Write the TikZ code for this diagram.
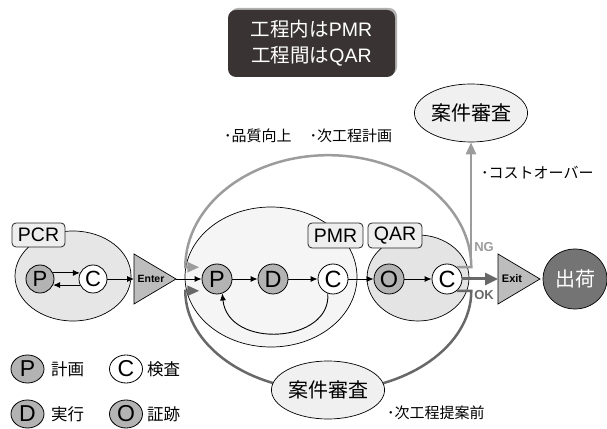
\documentclass[tikz,border=0pt]{standalone}
\usepackage{fontspec}
\setmainfont{Liberation Sans}
\newfontfamily\jp{Noto Sans CJK JP}
\usetikzlibrary{arrows.meta,shapes.geometric}
\definecolor{darkbox}{HTML}{393333}
\definecolor{pcrfill}{HTML}{E6E6E6}
\definecolor{pmrfill}{HTML}{F5F5F5}
\definecolor{qarfill}{HTML}{E4E4E4}
\definecolor{lblfill}{HTML}{EEEEEE}
\definecolor{cgray}{HTML}{B3B3B3}
\definecolor{lightloop}{HTML}{9C9C9C}
\definecolor{darkloop}{HTML}{686868}
\definecolor{trifill}{HTML}{BDBDBD}
\definecolor{shipfill}{HTML}{747474}
\definecolor{revfill}{HTML}{F0F0F0}
\begin{document}
\begin{tikzpicture}[x=1pt,y=1pt,
  every node/.style={inner sep=0pt},
  grp/.style={draw=black, line width=0.7pt, ellipse},
  lbl/.style={draw=black!85, fill=lblfill, rounded corners=4pt, line width=0.8pt,
    minimum height=25pt, font=\fontsize{19.5}{19.5}\selectfont},
  dot/.style={circle, draw=black, line width=0.8pt, minimum size=30pt,
    font=\fontsize{23.5}{23.5}\selectfont},
  sdot/.style={dot, minimum size=28pt, font=\fontsize{22}{22}\selectfont},
  gdot/.style={fill=cgray},
  wdot/.style={fill=white},
  legdot/.style={ellipse, draw=black, line width=0.8pt, minimum width=33pt,
    minimum height=28pt, font=\fontsize{23}{23}\selectfont},
  blk/.style={draw=black, line width=0.9pt, -{Latex[length=7pt,width=6pt]}},
  loopA/.style={draw=lightloop, line width=2.5pt, -{Triangle[length=12pt,width=10pt]}},
  loopB/.style={draw=darkloop, line width=2.5pt, -{Triangle[length=12pt,width=10pt]}},
  review/.style={ellipse, draw=black, line width=0.7pt, fill=revfill,
    minimum width=102pt, minimum height=58pt, font=\jp\fontsize{20}{20}\selectfont},
  jtext/.style={font=\jp\fontsize{15}{15}\selectfont},
  ltext/.style={font=\jp\fontsize{16.5}{16.5}\selectfont, anchor=west},
  tri/.style={draw=black, line width=0.7pt, fill=trifill}
]
\useasboundingbox (0,0) rectangle (607,428);

% top dark box
\fill[black!30, rounded corners=8pt] (230,353) rectangle (397,420);
\node[fill=darkbox, rounded corners=8pt, minimum width=167pt, minimum height=67pt,
  text=white, align=center, font=\fontsize{19.5}{26}\selectfont] (title) at (311.5,384.5)
  {{\jp 工程内は}PMR\\{\jp 工程間は}QAR};

% group ellipses
\node[grp, fill=pcrfill, minimum width=116pt, minimum height=90pt] (pcr) at (73,152) {};
\node[grp, fill=pmrfill, minimum width=172pt, minimum height=140pt] (pmr) at (271,151) {};
\node[grp, fill=qarfill, minimum width=102pt, minimum height=86pt] (qar) at (418,150) {};

% circles
\node[sdot, gdot] (pP) at (40,149) {P};
\node[sdot, wdot] (pC) at (93,149) {C};
\node[dot, gdot] (mP) at (217,149) {P};
\node[dot, gdot] (mD) at (273,149) {D};
\node[dot, wdot] (mC) at (333,149) {C};
\node[dot, gdot] (mO) at (389,149) {O};
\node[dot, wdot] (mC2) at (447,149) {C};

% triangles
\coordinate (enL) at (134,149);
\coordinate (enR) at (176,149);
\coordinate (exL) at (498,149);
\draw[tri] (134,174) -- (134,124) -- (enR) -- cycle;
\node[font=\bfseries\fontsize{10.5}{10.5}\selectfont] (enter) at (151,149) {Enter};
\draw[tri] (498,174) -- (498,124) -- (540,149) -- cycle;
\node[font=\bfseries\fontsize{11}{11}\selectfont] (exit) at (512,149) {Exit};

% shipping
\node[ellipse, draw=black, line width=0.7pt, fill=shipfill, minimum width=64pt,
  minimum height=60pt, text=white, font=\jp\fontsize{20}{20}\selectfont] (ship) at (575,149) {出荷};

% top review
\node[review] (rv1) at (471,315) {案件審査};

% loops
\draw[loopA] (mC2.50) -- ++(14.4,0) arc[start angle=0, end angle=180, x radius=143, y radius=112] -- ++(14,0);
\draw[loopA] (mC2.50) -| (rv1.south);
\draw[loopB] (mC2.310) -- ++(14.4,0) arc[start angle=0, end angle=-180, x radius=143, y radius=100] -- ++(14,0);

% bottom review
\node[review] (rv2) at (328,38) {案件審査};

% connectors
\draw[blk] (pP.25) -- (pC.155);
\draw[blk] (pC.205) -- (pP.335);
\draw[blk] (pC) -- (enL);
\draw[blk] (enR) -- (mP);
\draw[blk] (mP) -- (mD);
\draw[blk] (mD) -- (mC);
\draw[blk] (mC) -- (mO);
\draw[blk] (mO) -- (mC2);
\draw[blk] (mC.250) .. controls (332,85) and (228,78) .. (mP.290);
\draw[draw=darkloop, line width=3pt, -{Triangle[length=13pt,width=12pt]}] (mC2) -- (exL);

% labels
\node[lbl, minimum width=53pt, minimum height=24pt] (lpcr) at (38.5,193) {PCR};
\node[lbl, minimum width=55pt] (lpmr) at (335.5,192.5) {PMR};
\node[lbl, minimum width=54pt] (lqar) at (395,192.5) {QAR};

\node[font=\bfseries\fontsize{13}{13}\selectfont, text=lightloop] (ng) at (484,181) {NG};
\node[font=\bfseries\fontsize{13}{13}\selectfont, text=darkloop] (ok) at (484,133) {OK};

\node[jtext, anchor=west] (t1) at (224,292) {･品質向上\hspace{1.2em}･次工程計画};
\node[jtext, anchor=west] (t2) at (481,255) {･コストオーバー};
\node[jtext, anchor=west] (t3) at (387,15) {･次工程提案前};

% legend
\node[legdot, fill=cgray] (lgP) at (27.5,59) {P};
\node[ltext] (lgPt) at (51,59) {計画};
\node[legdot, fill=white] (lgC) at (126,59) {C};
\node[ltext] (lgCt) at (147,59) {検査};
\node[legdot, fill=cgray] (lgD) at (27.5,14) {D};
\node[ltext] (lgDt) at (51,14) {実行};
\node[legdot, fill=cgray] (lgO) at (126,14) {O};
\node[ltext] (lgOt) at (147,14) {証跡};
\end{tikzpicture}
\end{document}
